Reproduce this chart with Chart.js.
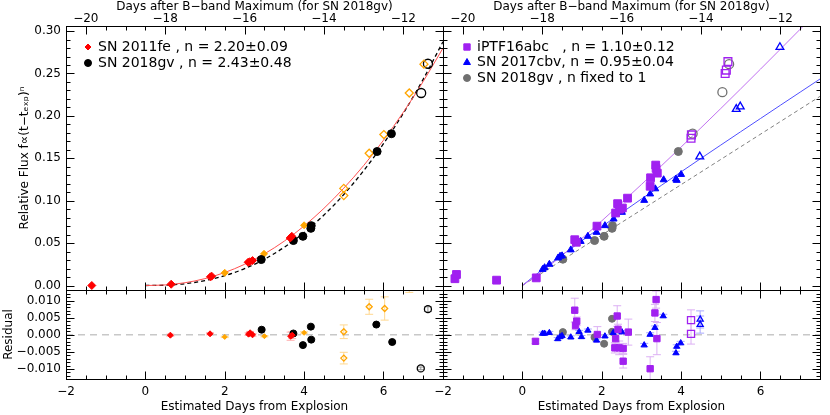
<!DOCTYPE html>
<html>
<head>
<meta charset="utf-8">
<script src="https://cdn.jsdelivr.net/npm/chart.js@4.4.1/dist/chart.umd.min.js"></script>
<style>
  body { margin: 0; background: #fff; }
  #wrap { position: relative; width: 830px; height: 415px; }
  #wrap canvas { position: absolute; left: 0; top: 0; }
</style>
</head>
<body>
<div id="wrap">
  <canvas id="fluxL" width="830" height="415"></canvas>
  <canvas id="fluxR" width="830" height="415"></canvas>
  <canvas id="resL" width="830" height="415"></canvas>
  <canvas id="resR" width="830" height="415"></canvas>
</div>
<script>
// ---- data: [days from explosion, flux] / [days, residual, error]
const fe11Red = [[-1.35,0.000],[0.65,0.0015],[1.64,0.0102],[1.67,0.011],[2.59,0.0274],[2.63,0.028],[2.70,0.0294],[3.65,0.056],[3.69,0.058]];
const fe11Orange = [[2.00,0.0149],[2.99,0.0373],[4.00,0.071]];
const fe11OrangeOpen = [[5.00,0.1145],[5.00,0.106],[5.64,0.156],[6.01,0.178],[6.65,0.227],[7.02,0.261]];
const gv18Black = [[2.92,0.0306],[3.73,0.053],[3.97,0.058],[4.17,0.0674],[4.18,0.0706],[5.84,0.158],[6.20,0.179]];
const gv18BlackOpen = [[6.95,0.227],[7.12,0.2615]];

const abcPurple = [[-1.70,0.008],[-1.66,0.013],[-0.65,0.0063],[0.35,0.009],[1.32,0.054],[1.36,0.051],[1.88,0.070],
  [2.35,0.0855],[2.40,0.0965],[2.45,0.090],[2.52,0.0914],[2.65,0.103],[3.22,0.117],[3.23,0.127],[3.36,0.142],[3.37,0.138],[3.40,0.1325]];
const abcPurpleOpen = [[4.25,0.1737],[4.26,0.1776],[5.11,0.250],[5.14,0.254],[5.18,0.264]];
const cbvBlue = [[0.51,0.019],[0.56,0.021],[0.68,0.025],[0.90,0.0325],[0.95,0.0345],[1.00,0.035],[1.22,0.042],[1.36,0.051],
  [1.47,0.052],[1.65,0.058],[1.87,0.0627],[2.08,0.0706],[2.30,0.0784],[2.51,0.0863],[3.07,0.1004],[3.22,0.108],[3.35,0.114],
  [3.56,0.1247],[3.87,0.1255],[3.89,0.124],[4.00,0.131]];
const cbvBlueOpen = [[4.47,0.152],[5.39,0.208],[5.49,0.211],[6.49,0.281]];
const gv18Gray = [[1.02,0.031],[1.82,0.053],[2.06,0.058],[2.26,0.0674],[2.27,0.0706],[3.93,0.158]];
const gv18GrayOpen = [[4.29,0.179],[5.04,0.228],[5.21,0.261]];

// fitted power laws, sampled off the drawn curves
const fitDays = [0,0.5,1,1.5,2,2.5,3,3.5,4,4.5,5,5.5,6,6.5,7,7.5];
const fe11Fit = [0,0.0007,0.0033,0.0081,0.0153,0.0250,0.0373,0.0523,0.0702,0.0910,0.1148,0.1414,0.1713,0.2043,0.2405,0.2800];
const gv18Fit = [0,0.0004,0.0021,0.0058,0.0116,0.0199,0.0310,0.0451,0.0624,0.0831,0.1073,0.1354,0.1672,0.2031,0.2431,0.2875];
const abcFit = [0,0.0166,0.0355,0.0555,0.0762,0.0974,0.1191,0.1410,0.1633,0.1859,0.2087,0.2318,0.2551,0.2786,0.3022,0.3261];
const cbvFit = [0,0.0186,0.0359,0.0528,0.0694,0.0857,0.1020,0.1180,0.1340,0.1499,0.1656,0.1813,0.1969,0.2125,0.2280,0.2435];
const linDays = [0, 7.5];
const gv18LinFit = [0, 0.223];

// residuals
const fe11RedRes = [[0.63,-0.0001,0.0003],[1.63,0.0003,0.0003],[2.60,0.0002,0.0004],[2.64,0.0006,0.0004],[2.70,0.0000,0.0004],[3.66,-0.0004,0.0012],[3.70,-0.0001,0.0010]];
const fe11OrangeRes = [[2.00,-0.0006,0.0002],[3.00,-0.0004,0.0002],[4.00,0.0006,0.0003]];
const fe11OrangeOpenRes = [[5.00,0.0009,0.0020],[5.00,-0.0068,0.0017],[5.64,0.0082,0.0022],[6.03,0.0077,0.0034],[6.65,0.0160,0.0036],[7.02,0.0190,0.0040]];
const gv18BlackRes = [[2.93,0.0015,0.0003],[3.73,0.0004,0.0003],[3.97,-0.0030,0.0003],[4.17,0.0024,0.0003],[4.18,-0.0014,0.0003],[5.82,0.0030,0.0003],[6.22,-0.0021,0.0003]];
const gv18BlackOpenRes = [[6.94,-0.0098,0.0004],[7.12,0.0075,0.0007]];

const abcRes = [[0.33,-0.0019,0.0007],[1.32,0.0072,0.0035],[1.34,0.0027,0.0012],[1.37,0.0040,0.0012],[1.89,0.0001,0.0023],
  [2.33,-0.0038,0.0015],[2.35,-0.0011,0.0015],[2.39,0.0055,0.0030],[2.41,0.0016,0.0015],[2.44,-0.0038,0.0020],[2.54,-0.0040,0.0015],
  [2.54,-0.0077,0.0020],[2.67,0.0008,0.0038],[3.22,-0.0099,0.0035],[3.34,0.0064,0.0025],[3.37,0.0103,0.0025],[3.39,-0.0011,0.0047]];
const abcOpenRes = [[4.25,0.0043,0.0030],[4.25,0.0003,0.0030]];
const cbvRes = [[0.51,0.0004,0.0004],[0.56,0.0004,0.0004],[0.68,0.0006,0.0004],[0.89,-0.0012,0.0004],[0.95,-0.0006,0.0004],
  [1.00,-0.0003,0.0004],[1.22,-0.0007,0.0004],[1.43,0.0009,0.0004],[1.49,-0.0006,0.0004],[1.65,0.0013,0.0004],[1.87,-0.0016,0.0004],
  [2.08,-0.0004,0.0004],[2.29,0.0006,0.0004],[2.51,0.0008,0.0004],[3.07,-0.0030,0.0005],[3.22,0.0001,0.0005],[3.34,0.0021,0.0005],
  [3.55,0.0055,0.0005],[3.87,-0.0053,0.0005],[3.89,-0.0034,0.0005],[3.99,-0.0024,0.0005]];
const cbvOpenRes = [[4.48,0.0045,0.0025],[4.48,0.0030,0.0025]];
const gv18GrayRes = [[1.02,0.0008,0.0003],[1.82,-0.0007,0.0003],[2.06,-0.0026,0.0003],[2.26,0.0047,0.0003],[2.26,0.0009,0.0003]];

const leftKeys = ['SN 2011fe , n = 2.20\u00b10.09', 'SN 2018gv , n = 2.43\u00b10.48'];
const rightKeys = ['iPTF16abc   , n = 1.10\u00b10.12', 'SN 2017cbv, n = 0.95\u00b10.04', 'SN 2018gv , n fixed to 1'];

const topAxisTitle = 'Days after B\u2212band Maximum (for SN 2018gv)';
const fluxTitle = 'Relative Flux f\u221d(t\u2212t\u2091\u2093\u209a)\u207f';
const bottomTitle = 'Estimated Days from Explosion';

// ---- drawing
Chart.defaults.font.family = '"DejaVu Sans", sans-serif';
Chart.defaults.color = '#000';

const RED = '#ff0000', ORANGE = '#ffa500', PURPLE = '#a020f0', BLUE = '#0000ff', GRAY = '#707070';
const minus = s => String(s).replace('-', '\u2212');

function pts(rows, style, color, r, open, errColor) {
  return {
    data: rows.map(d => ({x: d[0], y: d[1], e: d[2] || 0})),
    pointStyle: style, pointRadius: r,
    pointBackgroundColor: open ? 'rgba(0,0,0,0)' : color,
    pointBorderColor: color, pointBorderWidth: open ? 1.3 : 1,
    showLine: false, errColor: errColor
  };
}
function curve(xs, ys, color, dash, w) {
  return {
    data: xs.map((x, i) => ({x: x, y: ys[i]})),
    showLine: true, borderColor: color, borderWidth: w, borderDash: dash,
    pointRadius: 0, cubicInterpolationMode: 'monotone'
  };
}

const frame = {
  id: 'frame',
  afterDraw(chart, args, o) {
    const {ctx, chartArea: a} = chart;
    const L = Math.round(a.left) + 0.5, R = Math.round(a.right) + 0.5;
    const T = Math.round(a.top) + 0.5, B = Math.round(a.bottom) + 0.5;
    ctx.save();
    ctx.strokeStyle = '#000';
    ctx.lineWidth = 1;
    ctx.strokeRect(L, T, R - L, B - T);
    const marks = (spec, edge) => {
      const s = chart.scales[spec.scale];
      [[spec.minor, 4], [spec.major, 8]].forEach(([step, len]) => {
        for (let i = Math.ceil(s.min / step - 1e-6); i * step <= s.max + 1e-9; i++) {
          const p = Math.round(s.getPixelForValue(i * step)) + 0.5;
          ctx.beginPath();
          if (edge === 'bottom') { ctx.moveTo(p, B); ctx.lineTo(p, B - len); }
          if (edge === 'top') { ctx.moveTo(p, T); ctx.lineTo(p, T + len); }
          if (edge === 'left') { ctx.moveTo(L, p); ctx.lineTo(L + len, p); }
          if (edge === 'right') { ctx.moveTo(R, p); ctx.lineTo(R - len, p); }
          ctx.stroke();
        }
      });
    };
    marks(o.bottom, 'bottom');
    marks(o.top, 'top');
    marks(o.side, 'left');
    marks(o.side, 'right');
    ctx.restore();
  }
};

const errBars = {
  id: 'errBars',
  beforeDatasetsDraw(chart) {
    const {ctx, chartArea: a, scales: {x, y}} = chart;
    ctx.save();
    ctx.beginPath();
    ctx.rect(a.left, a.top, a.width, a.height);
    ctx.clip();
    ctx.lineWidth = 1;
    chart.data.datasets.forEach(ds => {
      if (!ds.errColor) return;
      ctx.strokeStyle = ds.errColor;
      ds.data.forEach(d => {
        if (!d.e) return;
        const px = x.getPixelForValue(d.x);
        const lo = y.getPixelForValue(d.y - d.e), hi = y.getPixelForValue(d.y + d.e);
        ctx.beginPath();
        ctx.moveTo(px, lo); ctx.lineTo(px, hi);
        ctx.moveTo(px - 4, lo); ctx.lineTo(px + 4, lo);
        ctx.moveTo(px - 4, hi); ctx.lineTo(px + 4, hi);
        ctx.stroke();
      });
    });
    ctx.restore();
  }
};

const keyBox = {
  id: 'keyBox',
  afterDraw(chart, args, o) {
    if (!o.items) return;
    const ctx = chart.ctx;
    ctx.save();
    ctx.font = '14px "DejaVu Sans"';
    ctx.textBaseline = 'middle';
    o.items.forEach((it, i) => {
      const ds = chart.data.datasets[it.ds];
      const y = o.y + i * o.gap;
      ctx.fillStyle = ds.pointBorderColor;
      ctx.strokeStyle = ds.pointBorderColor;
      ctx.lineWidth = 1;
      Chart.helpers.drawPoint(ctx, {pointStyle: ds.pointStyle, radius: it.r, borderWidth: 1, rotation: 0}, o.x, y);
      ctx.fillStyle = '#000';
      ctx.fillText(ds.label, o.x + 10, y);
    });
    ctx.restore();
  }
};

const tickFont = {size: 12};
const noGrid = {display: false, drawTicks: false};
const noBorder = {display: false};

function topAxis() {
  return {
    type: 'linear', position: 'top', min: -20.5, max: -11,
    grid: noGrid, border: noBorder,
    ticks: {stepSize: 2, includeBounds: false, font: tickFont, padding: 0, maxRotation: 0, callback: v => minus(v)},
    title: {display: true, text: topAxisTitle, font: {size: 12}, padding: {top: 0, bottom: 0}},
    afterFit: s => { s.height = 26; }
  };
}
function bottomAxis() {
  return {
    type: 'linear', position: 'bottom', min: -2, max: 7.5,
    grid: noGrid, border: noBorder,
    ticks: {stepSize: 2, includeBounds: false, font: tickFont, padding: 6, maxRotation: 0, callback: v => minus(v)},
    title: {display: true, text: bottomTitle, font: {size: 12}, padding: {top: 0, bottom: 1}},
    afterFit: s => { s.height = 36; }
  };
}
const hiddenX = {type: 'linear', position: 'bottom', min: -2, max: 7.5, display: false};

function baseOptions(pad, scales, framePlug, keys) {
  return {
    responsive: false, animation: false, devicePixelRatio: 1, events: [],
    layout: {padding: pad},
    plugins: {legend: {display: false}, tooltip: {enabled: false}, frame: framePlug, keyBox: keys || {}},
    scales: scales
  };
}

const fluxY = {min: -0.0053, max: 0.306};
const resY = {min: -0.0129, max: 0.0131};
const fluxFrame = {bottom: {scale: 'x', major: 2, minor: 0.5}, top: {scale: 'xt', major: 2, minor: 0.5}, side: {scale: 'y', major: 0.05, minor: 0.01}};
const resFrame = {bottom: {scale: 'x', major: 2, minor: 0.5}, top: {scale: 'x', major: 2, minor: 0.5}, side: {scale: 'y', major: 0.005, minor: 0.001}};

// top left: SN 2011fe vs SN 2018gv
const dsFL = [
  Object.assign(pts(fe11Red, 'rectRot', RED, 4), {label: leftKeys[0]}),
  Object.assign(pts(gv18Black, 'circle', '#000', 4), {label: leftKeys[1]}),
  pts(fe11Orange, 'rectRot', ORANGE, 3.5),
  pts(fe11OrangeOpen, 'rectRot', ORANGE, 4, true),
  pts(gv18BlackOpen, 'circle', '#000', 4.5, true),
  curve(fitDays, fe11Fit, '#ff5050', [], 1),
  curve(fitDays, gv18Fit, '#000', [4, 3], 1.3)
];
new Chart(document.getElementById('fluxL'), {
  type: 'scatter',
  data: {datasets: dsFL},
  options: baseOptions({left: 0, top: 0, right: 387, bottom: 125}, {
    x: hiddenX,
    xt: topAxis(),
    y: Object.assign({}, fluxY, {
      position: 'left', grid: noGrid, border: noBorder,
      ticks: {stepSize: 0.05, includeBounds: false, font: tickFont, padding: 5, callback: v => minus(v.toFixed(2))},
      title: {display: true, text: fluxTitle, font: {size: 12}, padding: {top: 18, bottom: 0}},
      afterFit: s => { s.width = 66; }
    })
  }, fluxFrame, {x: 88, y: 47, gap: 16, items: [{ds: 0, r: 3}, {ds: 1, r: 3.5}]}),
  plugins: [frame, errBars, keyBox]
});

// top right: iPTF16abc, SN 2017cbv, SN 2018gv with n = 1
const dsFR = [
  Object.assign(pts(abcPurple, 'rect', PURPLE, 5.5), {label: rightKeys[0]}),
  Object.assign(pts(cbvBlue, 'triangle', BLUE, 4), {label: rightKeys[1]}),
  Object.assign(pts(gv18Gray, 'circle', GRAY, 4), {label: rightKeys[2]}),
  pts(abcPurpleOpen, 'rect', PURPLE, 5.5, true),
  pts(cbvBlueOpen, 'triangle', BLUE, 4.5, true),
  pts(gv18GrayOpen, 'circle', GRAY, 4.5, true),
  curve(fitDays, abcFit, '#c070f0', [], 1),
  curve(fitDays, cbvFit, '#5050ff', [], 1),
  curve(linDays, gv18LinFit, '#808080', [4, 3], 1)
];
new Chart(document.getElementById('fluxR'), {
  type: 'scatter',
  data: {datasets: dsFR},
  options: baseOptions({left: 443, top: 0, right: 10, bottom: 125}, {
    x: hiddenX,
    xt: topAxis(),
    y: Object.assign({}, fluxY, {display: false})
  }, fluxFrame, {x: 467, y: 47, gap: 15.5, items: [{ds: 0, r: 4.5}, {ds: 1, r: 4}, {ds: 2, r: 3.5}]}),
  plugins: [frame, errBars, keyBox]
});

// bottom left: residuals
function zeroLine() {
  return {data: [{x: -2, y: 0}, {x: 7.5, y: 0}], showLine: true, borderColor: '#c8c8c8', borderWidth: 1.5, borderDash: [7, 5], pointRadius: 0};
}
new Chart(document.getElementById('resL'), {
  type: 'scatter',
  data: {datasets: [
    pts(fe11RedRes, 'rectRot', RED, 3, false, '#ffb0b0'),
    pts(fe11OrangeRes, 'rectRot', ORANGE, 2.5, false, '#ffd890'),
    pts(fe11OrangeOpenRes, 'rectRot', ORANGE, 3, true, '#ffd890'),
    pts(gv18BlackRes, 'circle', '#000', 3.5, false, '#c0c0c0'),
    pts(gv18BlackOpenRes, 'circle', '#000', 3.5, true, '#909090'),
    zeroLine()
  ]},
  options: baseOptions({left: 0, top: 290, right: 387, bottom: 0}, {
    x: bottomAxis(),
    y: Object.assign({}, resY, {
      position: 'left', grid: noGrid, border: noBorder,
      ticks: {stepSize: 0.005, includeBounds: false, font: tickFont, padding: 5, callback: v => minus(v.toFixed(3))},
      title: {display: true, text: 'Residual', font: {size: 12}, padding: {top: 2, bottom: 0}},
      afterFit: s => { s.width = 66; }
    })
  }, resFrame),
  plugins: [frame, errBars]
});

// bottom right: residuals
new Chart(document.getElementById('resR'), {
  type: 'scatter',
  data: {datasets: [
    pts(abcRes, 'rect', PURPLE, 4.5, false, '#dcb0f4'),
    pts(abcOpenRes, 'rect', PURPLE, 5, true, '#dcb0f4'),
    pts(cbvRes, 'triangle', BLUE, 3.5, false, '#a8a8ff'),
    pts(cbvOpenRes, 'triangle', BLUE, 3.5, true, '#a8a8ff'),
    pts(gv18GrayRes, 'circle', GRAY, 3.5, false, '#c8c8c8'),
    zeroLine()
  ]},
  options: baseOptions({left: 443, top: 290, right: 10, bottom: 0}, {
    x: bottomAxis(),
    y: Object.assign({}, resY, {display: false})
  }, resFrame),
  plugins: [frame, errBars]
});
</script>
</body>
</html>
